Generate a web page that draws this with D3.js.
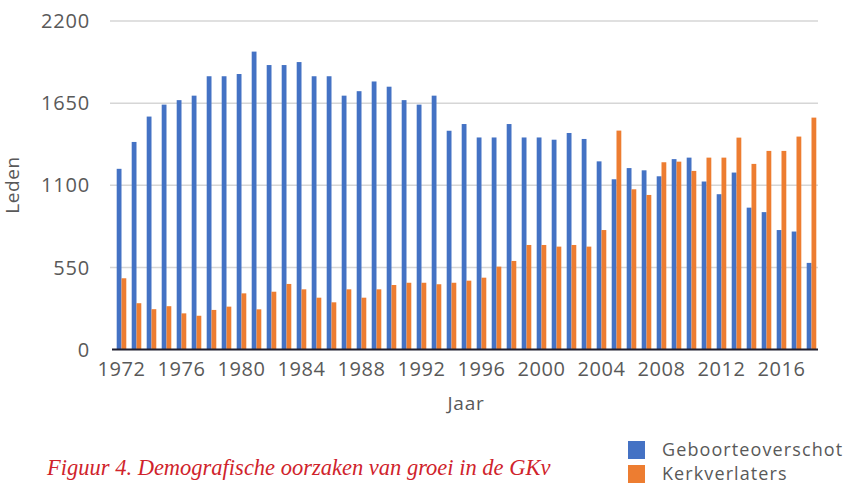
<!DOCTYPE html>
<html>
<head>
<meta charset="utf-8">
<script src="https://cdn.jsdelivr.net/npm/d3@7"></script>
<style>
  html, body { margin: 0; padding: 0; background: #ffffff; }
  svg { display: block; }
</style>
</head>
<body>
<svg id="chart" width="851" height="484"></svg>
<script>
const years = d3.range(1972, 2019);
const geboorteoverschot = [1210, 1390, 1560, 1640, 1670, 1700, 1830, 1830, 1845, 1995,
  1905, 1905, 1925, 1830, 1830, 1700, 1730, 1795, 1760, 1670,
  1640, 1700, 1465, 1510, 1420, 1420, 1510, 1420, 1420, 1405,
  1450, 1410, 1260, 1140, 1215, 1200, 1160, 1275, 1285, 1125,
  1040, 1185, 950, 920, 800, 790, 580];
const kerkverlaters = [477, 310, 270, 290, 242, 226, 265, 287, 376, 269,
  387, 439, 403, 347, 316, 403, 347, 403, 432, 447,
  447, 437, 447, 461, 481, 555, 593, 700, 700, 689,
  700, 689, 800, 1466, 1073, 1035, 1254, 1258, 1196, 1285,
  1285, 1419, 1243, 1330, 1330, 1426, 1553];
const seriesNames = ["Geboorteoverschot", "Kerkverlaters"];
const yTicks = [0, 550, 1100, 1650, 2200];
const xTickYears = d3.range(1972, 2017, 4);

const colors = { Geboorteoverschot: "#4472C4", Kerkverlaters: "#ED7D31" };
const textGray = "#595959";
const font = "'Open Sans', sans-serif";

const svg = d3.select("#chart");

const x = d3.scaleBand().domain(years).range([114, 819]).paddingInner(0.36).paddingOuter(0.18);
const x1 = d3.scaleBand().domain(seriesNames).range([0, x.bandwidth()]).padding(0);
const y = d3.scaleLinear().domain([0, 2200]).range([349.5, 21]);

// gridlines
svg.append("g").selectAll("line").data(yTicks.filter(d => d > 0)).join("line")
  .attr("x1", 110).attr("x2", 818)
  .attr("y1", d => y(d)).attr("y2", d => y(d))
  .attr("stroke", "#d6d6d6").attr("stroke-width", 1.5);

// bars
const rows = years.map((yr, i) => ({ year: yr, values: [
  { key: "Geboorteoverschot", value: geboorteoverschot[i] },
  { key: "Kerkverlaters", value: kerkverlaters[i] }
]}));

svg.append("g").selectAll("g").data(rows).join("g")
  .attr("transform", d => `translate(${x(d.year)},0)`)
  .selectAll("rect").data(d => d.values).join("rect")
  .attr("x", d => x1(d.key))
  .attr("width", x1.bandwidth())
  .attr("y", d => y(d.value))
  .attr("height", d => y(0) - y(d.value))
  .attr("fill", d => colors[d.key]);

// x axis line
svg.append("line").attr("x1", 112).attr("x2", 818)
  .attr("y1", y(0)).attr("y2", y(0))
  .attr("stroke", "#1e1e2e").attr("stroke-width", 2.2);

// y tick labels
svg.append("g").selectAll("text").data(yTicks).join("text")
  .attr("x", 90).attr("y", d => y(d))
  .attr("dy", "0.36em")
  .attr("text-anchor", "end")
  .attr("font-family", font).attr("font-size", 20)
  .attr("letter-spacing", 0.8)
  .attr("fill", textGray)
  .text(d => d);

// x tick labels
svg.append("g").selectAll("text").data(xTickYears).join("text")
  .attr("x", d => x(d) + x.bandwidth() / 2)
  .attr("y", 376)
  .attr("text-anchor", "middle")
  .attr("font-family", font).attr("font-size", 20)
  .attr("letter-spacing", 0.6)
  .attr("fill", textGray)
  .text(d => d);

// axis titles
svg.append("text")
  .attr("transform", "translate(19,185) rotate(-90)")
  .attr("text-anchor", "middle")
  .attr("font-family", font).attr("font-size", 19)
  .attr("letter-spacing", 0.6)
  .attr("fill", textGray)
  .text("Leden");

svg.append("text")
  .attr("x", 466).attr("y", 410)
  .attr("text-anchor", "middle")
  .attr("font-family", font).attr("font-size", 19)
  .attr("letter-spacing", 0.8)
  .attr("fill", textGray)
  .text("Jaar");

// legend
const legend = svg.append("g").selectAll("g").data(seriesNames).join("g")
  .attr("transform", (d, i) => `translate(628,${441 + i * 24})`);
legend.append("rect").attr("width", 17).attr("height", 18)
  .attr("fill", d => colors[d]);
legend.append("text")
  .attr("x", 34).attr("y", 14.5)
  .attr("font-family", font).attr("font-size", 18)
  .attr("letter-spacing", 1.1)
  .attr("fill", textGray)
  .text(d => d);

// caption
svg.append("text")
  .attr("x", 47).attr("y", 475)
  .attr("font-family", "'Liberation Serif', serif")
  .attr("font-style", "italic")
  .attr("font-size", 22.5)
  .attr("fill", "#d0232b")
  .text("Figuur 4. Demografische oorzaken van groei in de GKv");
</script>
</body>
</html>
